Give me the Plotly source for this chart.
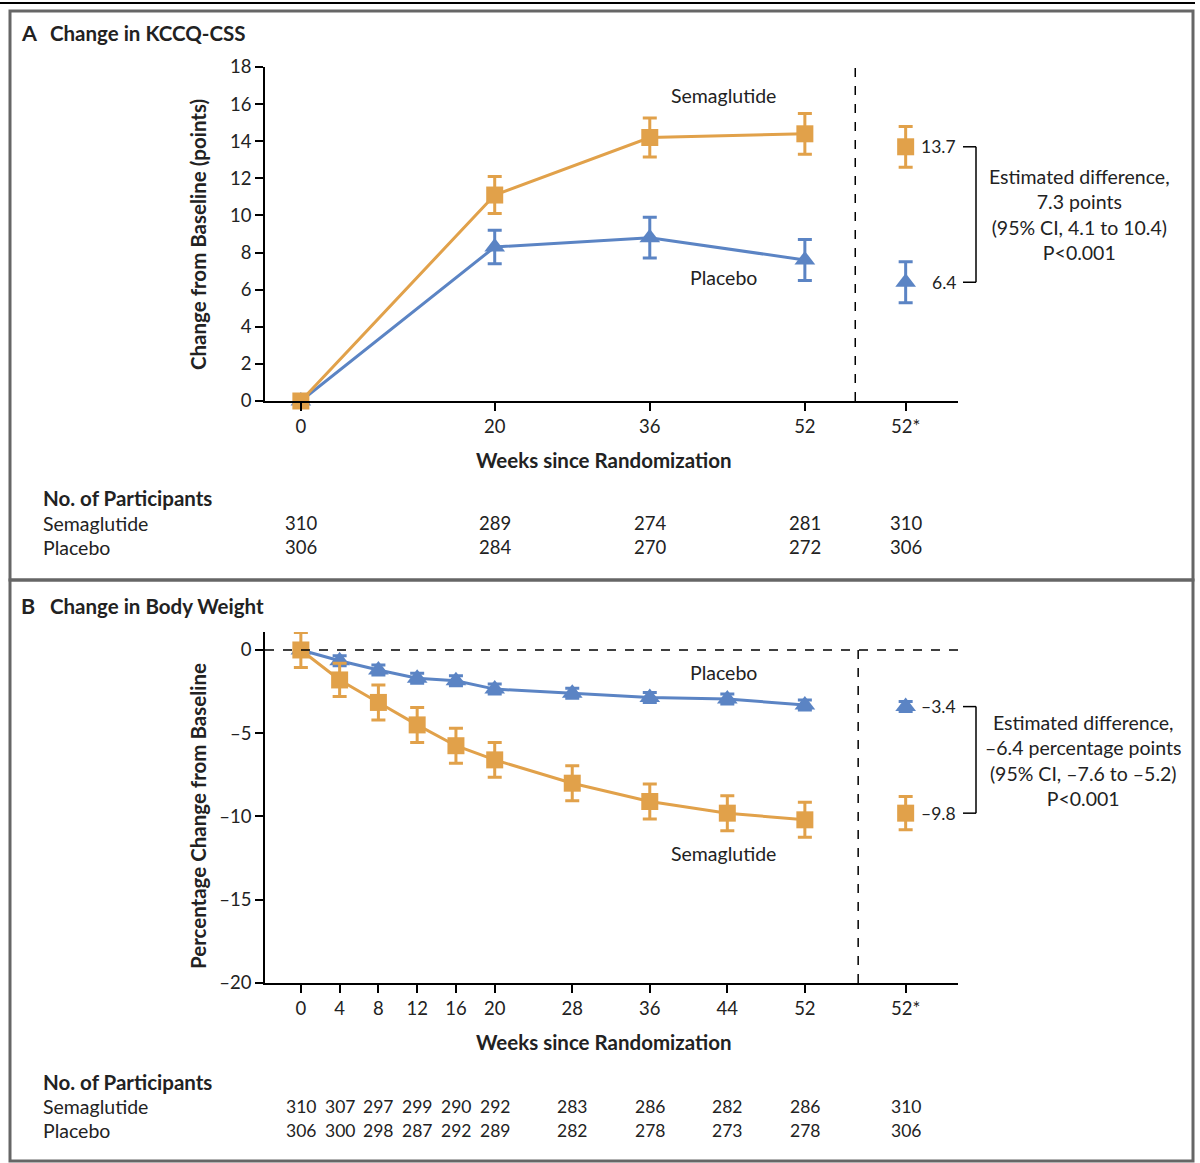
import plotly.graph_objects as go

# ---------------- data ----------------
X_STAR = 62.4  # position of the "52*" category on the week axis

# Panel A: KCCQ-CSS
a_weeks = [0, 20, 36, 52]
a_sema = [0, 11.1, 14.2, 14.4]
a_sema_err = [0, 1.0, 1.05, 1.1]
a_plac = [0, 8.3, 8.8, 7.6]
a_plac_err = [0, 0.9, 1.1, 1.1]
a_star_sema, a_star_sema_err = 13.7, 1.1
a_star_plac, a_star_plac_err = 6.4, 1.1
a_tickvals = [0, 20, 36, 52, X_STAR]
a_ticktext = ["0", "20", "36", "52", "52*"]
a_n_sema = ["310", "289", "274", "281", "310"]
a_n_plac = ["306", "284", "270", "272", "306"]
a_diff_text = "Estimated difference,<br>7.3 points<br>(95% CI, 4.1 to 10.4)<br>P<0.001"

# Panel B: body weight
b_weeks = [0, 4, 8, 12, 16, 20, 28, 36, 44, 52]
b_sema = [0, -1.8, -3.15, -4.5, -5.75, -6.6, -8.0, -9.1, -9.8, -10.2]
b_sema_err = [1.05, 1.0, 1.05, 1.05, 1.05, 1.05, 1.05, 1.05, 1.05, 1.05]
b_plac = [0, -0.65, -1.2, -1.7, -1.85, -2.35, -2.6, -2.85, -2.95, -3.3]
b_plac_err = [0, 0.3, 0.3, 0.3, 0.3, 0.3, 0.3, 0.3, 0.3, 0.3]
b_star_sema, b_star_sema_err = -9.8, 1.0
b_star_plac, b_star_plac_err = -3.4, 0.3
b_tickvals = [0, 4, 8, 12, 16, 20, 28, 36, 44, 52, X_STAR]
b_ticktext = ["0", "4", "8", "12", "16", "20", "28", "36", "44", "52", "52*"]
b_ytickvals = [0, -5, -10, -15, -20]
b_yticktext = ["0", "–5", "–10", "–15", "–20"]
b_n_sema = ["310", "307", "297", "299", "290", "292", "283", "286", "282", "286", "310"]
b_n_plac = ["306", "300", "298", "287", "292", "289", "282", "278", "273", "278", "306"]
b_diff_text = "Estimated difference,<br>–6.4 percentage points<br>(95% CI, –7.6 to –5.2)<br>P<0.001"

# ---------------- styling ----------------
W, H = 1200, 1163
ORANGE = "#E1A14A"
BLUE = "#5B84C4"
FONT = "Lato"
TXT = 19.5     # regular text size
BOLD = 20.5    # bold heading size


def px(x):
    return x / W


def py(y):
    return 1 - y / H


fig = go.Figure()


def add_series(x, y, err, color, symbol, xa, ya, line=True):
    fig.add_trace(go.Scatter(
        x=x, y=y, xaxis=xa, yaxis=ya,
        mode="lines+markers" if line else "markers",
        line=dict(color=color, width=3),
        marker=dict(color=color, symbol=symbol, size=17 if symbol == "square" else 18),
        error_y=dict(type="data", array=err, visible=True, color=color,
                     thickness=3, width=7),
        cliponaxis=False, showlegend=False, hoverinfo="skip",
    ))


# Panel A traces
add_series(a_weeks, a_plac, a_plac_err, BLUE, "triangle-up", "x", "y")
add_series(a_weeks, a_sema, a_sema_err, ORANGE, "square", "x", "y")
add_series([X_STAR], [a_star_plac], [a_star_plac_err], BLUE, "triangle-up", "x", "y", False)
add_series([X_STAR], [a_star_sema], [a_star_sema_err], ORANGE, "square", "x", "y", False)

# Panel B traces
add_series(b_weeks, b_plac, b_plac_err, BLUE, "triangle-up", "x2", "y2")
add_series(b_weeks, b_sema, b_sema_err, ORANGE, "square", "x2", "y2")
add_series([X_STAR], [b_star_plac], [b_star_plac_err], BLUE, "triangle-up", "x2", "y2", False)
add_series([X_STAR], [b_star_sema], [b_star_sema_err], ORANGE, "square", "x2", "y2", False)

XR = [-3.7, 67.8]
axis_common = dict(showline=True, linecolor="black", linewidth=1.5, ticks="outside",
                   ticklen=8, tickwidth=1.5, tickcolor="black", showgrid=False,
                   zeroline=False, automargin=False,
                   tickfont=dict(family=FONT, size=18.5, color="#222"))

fig.update_layout(
    width=W, height=H, margin=dict(l=0, r=0, t=0, b=0, pad=0, autoexpand=False),
    paper_bgcolor="white", plot_bgcolor="white", showlegend=False,
    font=dict(family=FONT, color="#222"),
    xaxis=dict(domain=[px(265), px(958)], range=XR, anchor="y",
               tickmode="array", tickvals=a_tickvals, ticktext=a_ticktext, **axis_common),
    yaxis=dict(domain=[py(401), py(67)], range=[0, 18], anchor="x",
               tickmode="array", tickvals=list(range(0, 19, 2)), **axis_common),
    xaxis2=dict(domain=[px(265), px(958)], range=XR, anchor="y2",
                tickmode="array", tickvals=b_tickvals, ticktext=b_ticktext, **axis_common),
    yaxis2=dict(domain=[py(983), py(632)], range=[-20, 1.08], anchor="x2",
                tickmode="array", tickvals=b_ytickvals, ticktext=b_yticktext, **axis_common),
)

shapes = []
# frame lines
shapes.append(dict(type="line", xref="paper", yref="paper", x0=px(0), x1=px(1195),
                   y0=py(3), y1=py(3), line=dict(color="black", width=2)))
shapes.append(dict(type="rect", xref="paper", yref="paper", x0=px(10), x1=px(1193),
                   y0=py(11), y1=py(580), line=dict(color="#666", width=3)))
shapes.append(dict(type="rect", xref="paper", yref="paper", x0=px(10), x1=px(1193),
                   y0=py(580), y1=py(1161), line=dict(color="#666", width=3)))
# dashed separators
shapes.append(dict(type="line", xref="x", yref="y domain", x0=57.2, x1=57.2, y0=0, y1=1,
                   line=dict(color="black", width=1.5, dash="dash")))
shapes.append(dict(type="line", xref="x2 domain", yref="y2", x0=0, x1=1, y0=0, y1=0,
                   line=dict(color="black", width=1.5, dash="dash")))
shapes.append(dict(type="line", xref="x2", yref="y2", x0=57.5, x1=57.5, y0=-20, y1=0,
                   line=dict(color="black", width=1.5, dash="dash")))


def bracket(ya, y_top, y_bot):
    for yv in (y_top, y_bot):
        shapes.append(dict(type="line", xref="paper", yref=ya, x0=px(963), x1=px(976),
                           y0=yv, y1=yv, line=dict(color="black", width=1.5)))
    shapes.append(dict(type="line", xref="paper", yref=ya, x0=px(976), x1=px(976),
                       y0=y_top, y1=y_bot, line=dict(color="black", width=1.5)))


bracket("y", a_star_sema, a_star_plac)
bracket("y2", b_star_plac, b_star_sema)
fig.update_layout(shapes=shapes)

ann = []


def text(x, y, s, size=TXT, xref="paper", yref="paper", xanchor="center", bold=False,
         angle=0, align="center"):
    ann.append(dict(x=x, y=y, xref=xref, yref=yref, text=f"<b>{s}</b>" if bold else s,
                    showarrow=False, xanchor=xanchor, yanchor="middle", textangle=angle,
                    align=align, font=dict(family=FONT, size=size, color="#222")))


# Panel titles
text(px(19), py(33), "A", size=21.5, xanchor="left", bold=True)
text(px(48), py(33), "Change in KCCQ-CSS", size=BOLD, xanchor="left", bold=True)
text(px(19), py(606), "B", size=21.5, xanchor="left", bold=True)
text(px(48), py(606), "Change in Body Weight", size=BOLD, xanchor="left", bold=True)

# axis titles
text(px(198), py(235), "Change from Baseline (points)", size=BOLD, bold=True, angle=-90)
text(px(198), py(816), "Percentage Change from Baseline", size=BOLD, bold=True, angle=-90)
text(px(604), py(460), "Weeks since Randomization", size=BOLD, bold=True)
text(px(604), py(1042), "Weeks since Randomization", size=BOLD, bold=True)

# series labels
text(43.6, 16.45, "Semaglutide", xref="x", yref="y")
text(43.6, 6.63, "Placebo", xref="x", yref="y")
text(43.6, -1.38, "Placebo", xref="x2", yref="y2")
text(43.6, -12.25, "Semaglutide", xref="x2", yref="y2")

# value labels at 52*
text(px(958), a_star_sema, "13.7", size=17.5, xanchor="right", yref="y")
text(px(958), a_star_plac, "6.4", size=17.5, xanchor="right", yref="y")
text(px(958), b_star_plac, "–3.4", size=17.5, xanchor="right", yref="y2")
text(px(958), b_star_sema, "–9.8", size=17.5, xanchor="right", yref="y2")

# difference text
text(px(1079), py(214), a_diff_text)
text(px(1083), py(760), b_diff_text)

# participant tables
text(px(41), py(498), "No. of Participants", size=BOLD, xanchor="left", bold=True)
text(px(41), py(523), "Semaglutide", xanchor="left")
text(px(41), py(547), "Placebo", xanchor="left")
for xv, s1, s2 in zip(a_tickvals, a_n_sema, a_n_plac):
    text(xv, py(523), s1, size=18.5, xref="x")
    text(xv, py(547), s2, size=18.5, xref="x")

text(px(41), py(1082), "No. of Participants", size=BOLD, xanchor="left", bold=True)
text(px(41), py(1106), "Semaglutide", xanchor="left")
text(px(41), py(1130), "Placebo", xanchor="left")
for xv, s1, s2 in zip(b_tickvals, b_n_sema, b_n_plac):
    text(xv, py(1106), s1, size=17.5, xref="x2")
    text(xv, py(1130), s2, size=17.5, xref="x2")

fig.update_layout(annotations=ann)
fig.write_html(
    "out.html",
    config={"displayModeBar": False},
    post_script=(
        "var g=document.getElementById('{plot_id}');"
        "g.style.position='fixed';g.style.top='0';g.style.left='0';"
        "document.body.style.margin='0';document.body.style.padding='0';"
    ),
)
